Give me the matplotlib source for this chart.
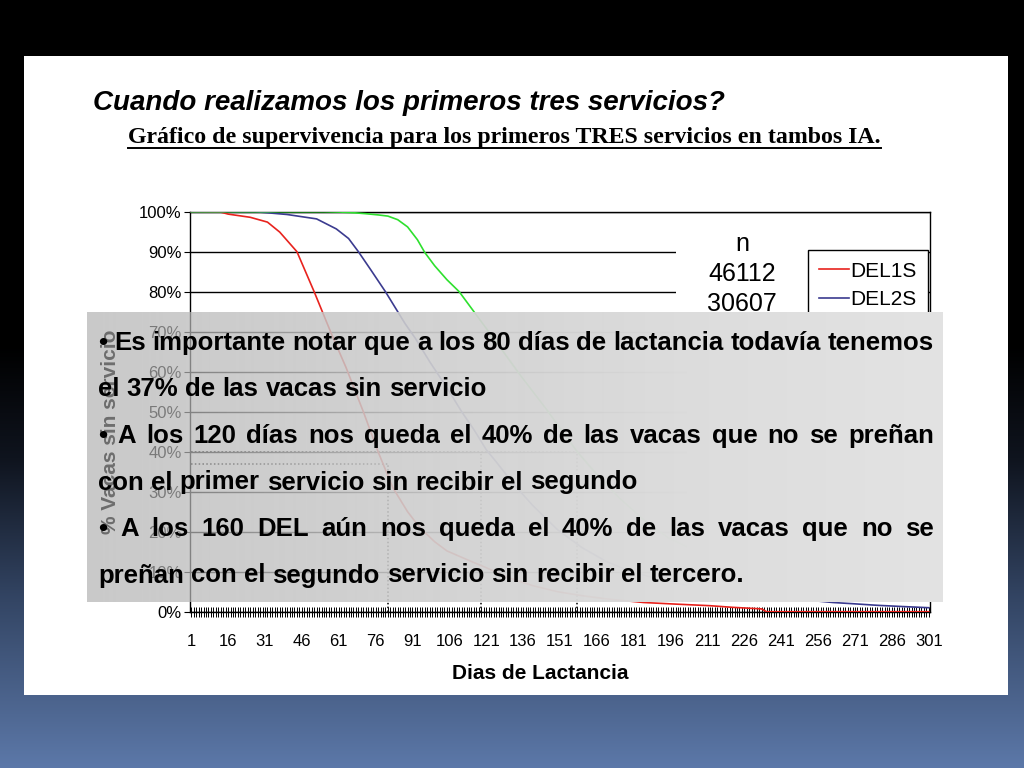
import matplotlib
matplotlib.use("Agg")
import matplotlib.pyplot as plt
import numpy as np
from matplotlib.patches import Rectangle
from matplotlib.lines import Line2D
from matplotlib.ticker import FixedLocator, FuncFormatter, MultipleLocator

plt.rcParams['font.family'] = ['Liberation Sans', 'DejaVu Sans']

# ---------------- data ----------------
title = "Cuando realizamos los primeros tres servicios?"
subtitle = "Gráfico de supervivencia para los primeros TRES servicios en tambos IA."
x_label = "Dias de Lactancia"
y_label = "% Vacas sin servicio"

tick_days = list(range(1, 302, 15))
tick_labels = [str(d) for d in tick_days]

series_names = ["DEL1S", "DEL2S", "DEL3S"]
series_colors = ["#e8231e", "#3b3b8f", "#2ee02e"]

days_red = [1, 13, 16, 25, 32, 37, 44, 51, 58, 64, 71, 77, 83, 89, 94, 100, 105,
            114, 121, 130, 140, 150, 160, 170, 185, 198, 212, 221, 233, 235, 301]
del1s = [100, 99.9, 99.4, 98.6, 97.4, 94.9, 90, 80, 69.5, 61, 50, 40, 31, 25, 21,
         17.5, 15.2, 12.8, 11, 8.5, 6.5, 5.0, 4.0, 3.2, 2.3, 1.9, 1.5, 1.1, 0.7, 0, 0]

days_blue = [1, 27, 40, 52, 60, 65, 69, 74, 80, 84, 88, 92, 98, 105, 111, 116, 121,
             125, 132, 140, 150, 160, 170, 180, 195, 210, 225, 240, 250, 262, 270,
             280, 290, 301]
del2s = [100, 100, 99.3, 98.2, 95.7, 93.3, 90, 85.5, 80, 76, 72, 68.5, 62.5, 56, 50,
         45.5, 40.5, 37.5, 32, 26.5, 20.5, 16, 12.5, 10, 7.5, 5.8, 4.6, 3.6, 3.0, 2.3,
         2.0, 1.6, 1.3, 1.0]

days_green = [1, 55, 62, 68, 72, 77, 81, 85, 89, 93, 96, 100, 105, 110, 116, 125,
              135, 145, 158, 165, 175, 185, 195, 210, 225, 240, 260, 280, 301]
del3s = [100, 100, 99.9, 99.7, 99.5, 99.2, 98.9, 98, 96.2, 93, 89.8, 86.5, 83, 80,
         75, 67.5, 59, 51, 40, 35, 28.5, 23, 18.5, 14, 11, 8.5, 6.5, 5, 4]

n_header = "n"
n_counts = ["46112", "30607"]

mark_days = [81, 119, 158]
mark_vals = [37, 40, 40]

overlay_lines = [
    ("• Es importante notar que a los 80 días de lactancia todavía tenemos", True),
    ("el 37% de las vacas sin servicio", False),
    ("• A los 120 días nos queda el 40% de las vacas que no se preñan", True),
    ("con el primer servicio sin recibir el segundo", False),
    ("• A los 160 DEL aún nos queda el 40% de las vacas que no se", True),
    ("preñan con el segundo servicio sin recibir el tercero.", False),
]

# ---------------- figure ----------------
W, H = 1024, 768
fig = plt.figure(figsize=(10.24, 7.68), dpi=100)


def fx(px):
    return px / W


def fy(py):
    return 1 - py / H


# slide background
bg = fig.add_axes([0, 0, 1, 1], zorder=-10)
bg.set_xlim(0, W)
bg.set_ylim(H, 0)
bg.axis('off')
ys = np.linspace(0, 1, 256)
stops_y = [0, 0.45, 0.6, 0.78, 1.0]
stops_c = [(0, 0, 0), (0, 0, 0), (0.06, 0.08, 0.12), (0.2, 0.27, 0.39), (0.36, 0.47, 0.66)]
grad = np.zeros((256, 1, 3))
for k in range(3):
    grad[:, 0, k] = np.interp(ys, stops_y, [c[k] for c in stops_c])
bg.imshow(grad, extent=(0, W, H, 0), aspect='auto', interpolation='bilinear')
bg.add_patch(Rectangle((24, 56), 984, 639, facecolor='white', edgecolor='none'))

# chart
ax = fig.add_axes([fx(190), fy(611.7), (930 - 190) / W, 400 / H], zorder=0)
ax.set_facecolor('white')
for dd, vv, nm, col in zip([days_red, days_blue, days_green], [del1s, del2s, del3s],
                           series_names, series_colors):
    ax.plot(dd, vv, color=col, lw=1.2, label=nm, zorder=3)

for d, v in zip(mark_days, mark_vals):
    ax.plot([1, d], [v, v], color='black', lw=1.1, ls=(0, (1, 1.5)), zorder=2.6)
    ax.plot([d, d], [0, v], color='black', lw=1.1, ls=(0, (1, 1.5)), zorder=2.6)

ax.set_xlim(0.5, 301.5)
ax.set_ylim(0, 100)
ax.xaxis.set_major_locator(FixedLocator(tick_days))
ax.xaxis.set_minor_locator(MultipleLocator(1))
ax.set_xticklabels(tick_labels)
ax.tick_params(axis='x', which='both', direction='inout', length=7, width=0.7,
               labelsize=12, pad=12.5)
ax.yaxis.set_major_locator(MultipleLocator(10))
ax.yaxis.set_major_formatter(FuncFormatter(lambda v, p: f"{int(round(v))}%"))
ax.tick_params(axis='y', direction='out', length=4, width=0.8, labelsize=12, pad=2)
ax.grid(axis='y', color='black', lw=1)
ax.set_axisbelow(True)
for s in ax.spines.values():
    s.set_linewidth(1)
    s.set_color('black')

ax.set_xlabel(x_label, fontsize=15, fontweight='bold')
ax.xaxis.set_label_coords(0.473, -0.13)
ax.set_ylabel(y_label, fontsize=15, fontweight='bold')
ax.yaxis.set_label_coords(-0.095, 0.45)

# white box holding the "n" column
ax.add_patch(Rectangle((0.657, 0.65), 0.835 - 0.657, 0.32, transform=ax.transAxes,
                       facecolor='white', edgecolor='none', zorder=1.5))
ax.text(0.746, 0.919, n_header, ha='center', va='center', fontsize=18,
        transform=ax.transAxes, zorder=4)
for i, cnt in enumerate(n_counts):
    ax.text(0.746, 0.844 - 0.075 * i, cnt, ha='center', va='center', fontsize=18,
            transform=ax.transAxes, zorder=4)

leg = ax.legend(loc='upper left', bbox_to_anchor=(0.835, 0.904), borderaxespad=0,
                frameon=True, fancybox=False, framealpha=1, edgecolor='black',
                prop={'size': 15}, handlelength=1.4, handletextpad=0.1,
                labelspacing=0.45, borderpad=0.55)
leg.get_frame().set_linewidth(1)
leg.set_zorder(5)

# titles
fig.text(fx(93), fy(110), title, fontsize=20, fontweight='bold', fontstyle='italic',
         va='baseline', ha='left', zorder=3)
sub = fig.text(fx(128), fy(143), subtitle, fontsize=17.2, fontweight='bold',
               family=['Liberation Serif', 'DejaVu Serif'], va='baseline', ha='left',
               zorder=3)

renderer = fig.canvas.get_renderer()
sb = sub.get_window_extent(renderer)
fig.add_artist(Line2D([sb.x0 / W, sb.x1 / W], [fy(148)] * 2, transform=fig.transFigure,
                      color='black', lw=1.4, zorder=3))

# overlay box with gradient
ov = fig.add_axes([fx(87), fy(602), (943 - 87) / W, (602 - 312) / H], zorder=10)
ov.axis('off')
nn = 256
xs = np.linspace(0, 1, nn)
aval = np.interp(xs, [0, 0.2, 0.4, 0.5, 0.7, 1], [0.62, 0.78, 0.92, 0.96, 1.0, 1.0])
vis = np.interp(xs, [0, 0.25, 0.5, 0.65, 1], [0.79, 0.81, 0.84, 0.86, 0.89])
cval = (vis - (1 - aval)) / aval
rgba = np.zeros((2, nn, 4))
rgba[..., 0] = cval
rgba[..., 1] = cval
rgba[..., 2] = cval
rgba[..., 3] = aval
ov.imshow(rgba, aspect='auto', extent=(0, 1, 0, 1), interpolation='bilinear')
ov.set_xlim(0, 1)
ov.set_ylim(0, 1)

# justified overlay text
fs = 18.5
left_px, right_px = 98, 934
baselines = [350, 396.5, 443, 489.5, 536, 582.5]
t1 = fig.text(0, 0, "a a", fontsize=fs, fontweight='bold')
t2 = fig.text(0, 0, "aa", fontsize=fs, fontweight='bold')
space_w = t1.get_window_extent(renderer).width - t2.get_window_extent(renderer).width
t1.remove()
t2.remove()
for (txt, just), base in zip(overlay_lines, baselines):
    words = txt.split(' ')
    arts = [fig.text(0, 0, w_, fontsize=fs, fontweight='bold', va='baseline',
                     ha='left', zorder=12, color='black') for w_ in words]
    widths = [a.get_window_extent(renderer).width for a in arts]
    if just and len(words) > 1:
        gap = (right_px - left_px - sum(widths)) / (len(words) - 1)
    else:
        gap = space_w
    x = left_px
    for a, wdt in zip(arts, widths):
        a.set_position((fx(x), fy(base)))
        x += wdt + gap

fig.savefig("out.png", dpi=100)
